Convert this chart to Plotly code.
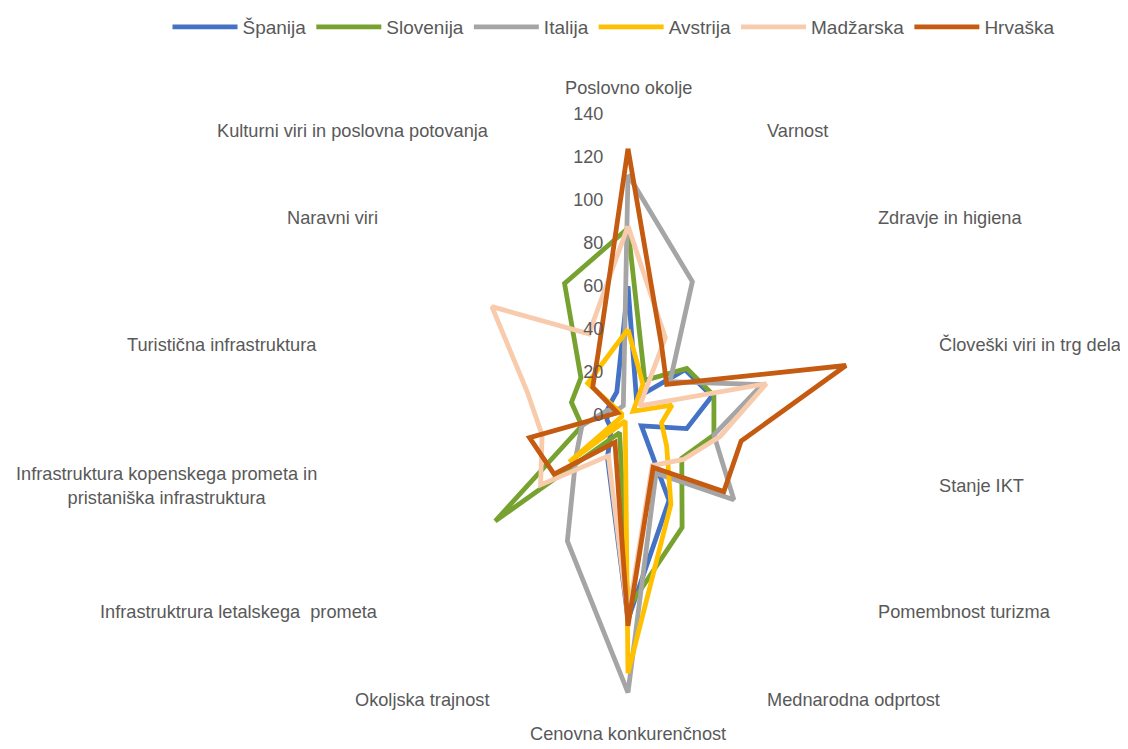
import math
import plotly.graph_objects as go

categories = [
    "Poslovno okolje",
    "Varnost",
    "Zdravje in higiena",
    "Človeški viri in trg dela",
    "Stanje IKT",
    "Pomembnost turizma",
    "Mednarodna odprtost",
    "Cenovna konkurenčnost",
    "Okoljska trajnost",
    "Infrastruktrura letalskega  prometa",
    "Infrastruktura kopenskega prometa in<br>pristaniška infrastruktura",
    "Turistična infrastruktura",
    "Naravni viri",
    "Kulturni viri in poslovna potovanja",
]

spanija = [60, 9, 34, 40, 28, 8, 44, 95, 22, 10, 10, 10, 10, 12]
slovenija = [87, 18, 35, 41, 41, 32, 58, 90, 9, 79, 22, 27, 28, 68]
italija = [112, 69, 25, 64, 41, 63, 30, 129, 65, 31, 22, 10, 5, 5]
avstrija = [40, 16, 3, 21, 16, 23, 46, 120, 3, 35, 3, 3, 24, 27]
madzarska = [88, 40, 7, 66, 44, 33, 26, 94, 21, 52, 41, 48, 81, 42]
hrvaska = [124, 36, 23, 104, 54, 57, 27, 98, 14, 44, 47, 5, 21, 32]

series = [
    ("Španija", spanija, "#4472C4"),
    ("Slovenija", slovenija, "#77A22F"),
    ("Italija", italija, "#A5A5A5"),
    ("Avstrija", avstrija, "#FFC000"),
    ("Madžarska", madzarska, "#F8CBAD"),
    ("Hrvaška", hrvaska, "#C55A11"),
]

radial_ticks = [0, 20, 40, 60, 80, 100, 120, 140]
TEXT = "#595959"

fig = go.Figure()
for name, vals, color in series:
    fig.add_trace(go.Scatterpolar(
        r=vals + [vals[0]],
        theta=categories + [categories[0]],
        mode="lines",
        name=name,
        line=dict(color=color, width=4.8),
    ))

# page body has an 8px margin; figure sized to fit inside the window
OFF = 8
W, H = 1128 - 2 * OFF, 749 - 2 * OFF
cx, cy, R = 628 - OFF, 413 - OFF, 303   # centre in figure pixels
label_r = R + 15

annotations = []
n = len(categories)
for i, cat in enumerate(categories):
    th = 2 * math.pi * i / n
    s, c = math.sin(th), math.cos(th)
    if abs(s) < 1e-6:
        xa = "center"
        ya = "bottom" if c > 0 else "top"
        rr = label_r if c > 0 else label_r - 8
    else:
        xa = "left" if s > 0 else "right"
        ya = "middle"
        rr = label_r
    px = cx + rr * s
    py = cy - rr * c
    annotations.append(dict(
        x=px / W, y=1 - py / H, xref="paper", yref="paper",
        text=cat, showarrow=False, xanchor=xa, yanchor=ya, align="center",
        font=dict(size=18.2, color=TEXT), borderpad=0,
    ))

fig.update_layout(
    width=W, height=H,
    margin=dict(l=0, r=0, t=0, b=0),
    paper_bgcolor="white",
    plot_bgcolor="white",
    font=dict(family="Liberation Sans, Arial, sans-serif", size=18.2, color=TEXT),
    showlegend=True,
    legend=dict(
        orientation="h", x=(613.5 - OFF) / W, xanchor="center",
        y=1 - (22 - OFF) / H, yanchor="middle",
        font=dict(size=19, color=TEXT),
        itemwidth=65,
    ),
    annotations=annotations,
    polar=dict(
        domain=dict(x=[(cx - R) / W, (cx + R) / W], y=[(H - cy - R) / H, (H - cy + R) / H]),
        bgcolor="white",
        angularaxis=dict(
            rotation=90, direction="clockwise",
            showgrid=False, showline=False, ticks="",
            showticklabels=False,
        ),
        radialaxis=dict(
            range=[0, 140], tickvals=radial_ticks, ticktext=[str(v) for v in radial_ticks],
            angle=90, side="counterclockwise", tickangle=90,
            showgrid=False, showline=False,
            ticks="outside", ticklen=18, tickcolor="rgba(0,0,0,0)",
            tickfont=dict(size=18, color=TEXT),
        ),
    ),
)

fig.write_html("out.html")
